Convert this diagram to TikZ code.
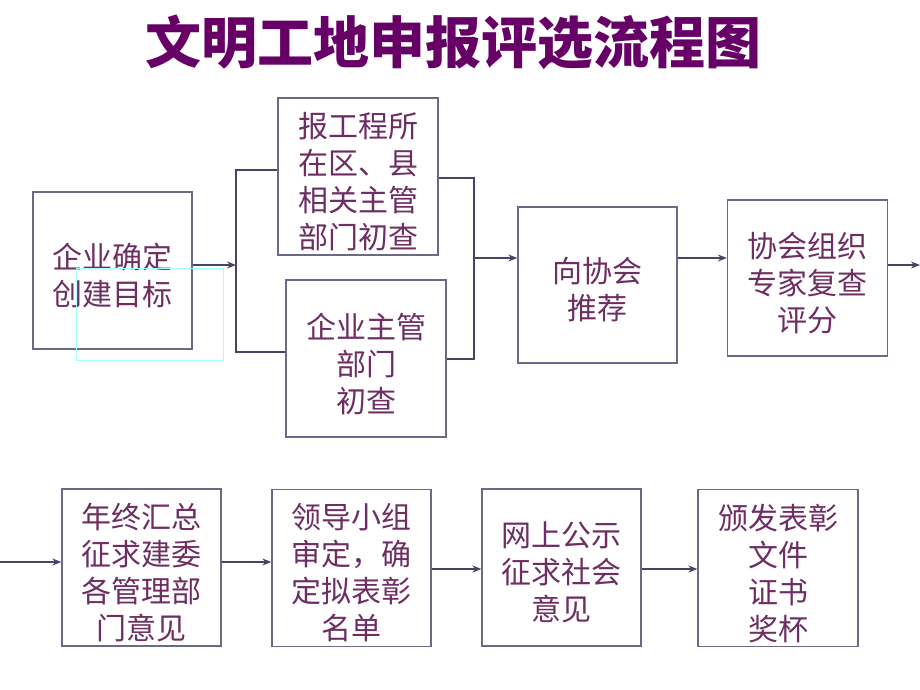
\documentclass[tikz,border=0pt]{standalone}
\usepackage{fontspec}
\setmainfont{Noto Sans CJK SC}
\usetikzlibrary{arrows.meta}
\definecolor{txt}{HTML}{6E2E63}
\definecolor{ttl}{HTML}{660066}
\definecolor{brd}{HTML}{6A6A86}
\definecolor{lnk}{HTML}{454565}
\definecolor{cy}{HTML}{A8FFFF}
\newcommand\mybox[5]{%
  \node[box,minimum width=#2,minimum height=#3] (#1) at (#4) {};
  \node[boxtext] (#1t) at ([yshift=-5pt]#1.center) {#5};}
\begin{document}
\begin{tikzpicture}[x=1pt,y=-1pt,
  box/.style={draw=brd,line width=1.3pt,inner sep=0pt},
  boxtext/.style={inner sep=0pt,align=center,text=txt,font=\fontsize{30}{37}\selectfont},
  link/.style={draw=lnk,line width=1.3pt},
  arr/.style={link,-{Stealth[length=9pt,width=7pt]}}]
\fill[white] (0,0) rectangle (920,690);
\useasboundingbox (0,0) rectangle (920,690);
\node[text=ttl,font=\fontsize{56}{56}\selectfont\bfseries] (title) at (453,42) {文明工地申报评选流程图};
% top row
\mybox{A}{159}{157}{112.5,270.5}{企业确定\\创建目标}
\node[draw=cy,line width=0.8pt,minimum width=147,minimum height=92,inner sep=0pt] (cyan) at (149.5,314) {};
\mybox{B}{160}{157}{358,176.5}{报工程所\\在区、县\\相关主管\\部门初查}
\mybox{C}{160}{157}{366,358.5}{企业主管\\部门\\初查}
\mybox{D}{159}{156}{597.5,285}{向协会\\推荐}
\mybox{E}{160}{156}{807.5,278}{协会组织\\专家复查\\评分}
% bottom row
\mybox{F}{159}{157}{141.5,567.5}{年终汇总\\征求建委\\各管理部\\门意见}
\mybox{G}{159}{157}{351.5,568}{领导小组\\审定，确\\定拟表彰\\名单}
\mybox{H}{159}{157}{561.5,567.5}{网上公示\\征求社会\\意见}
\mybox{I}{160}{157}{778,568}{颁发表彰\\文件\\证书\\奖杯}
% brackets and connectors
\coordinate (lj) at (236,265);
\coordinate (lt) at (236,170);
\coordinate (lb) at (236,352);
\coordinate (rt) at (474,178);
\coordinate (rb) at (474,359);
\coordinate (rj) at (474,258);
\coordinate (eout) at (920,265);
\coordinate (fin) at (0,562);
\draw[arr] (A.east |- lj) -- (lj);
\draw[link] (B.west |- lt) -- (lt) -- (lb) -- (C.west |- lb);
\draw[link] (B.east |- rt) -- (rt) -- (rb) -- (C.east |- rb);
\draw[arr] (rj) -- (D.west |- rj);
\draw[arr] (D.east |- 0,258) -- (E.west |- 0,258);
\draw[arr] (E.east |- eout) -- (eout);
\draw[arr] (fin) -- (F.west |- fin);
\draw[arr] (F.east |- 0,562) -- (G.west |- 0,562);
\draw[arr] (G.east |- 0,569) -- (H.west |- 0,569);
\draw[arr] (H.east |- 0,569) -- (I.west |- 0,569);
\end{tikzpicture}
\end{document}
